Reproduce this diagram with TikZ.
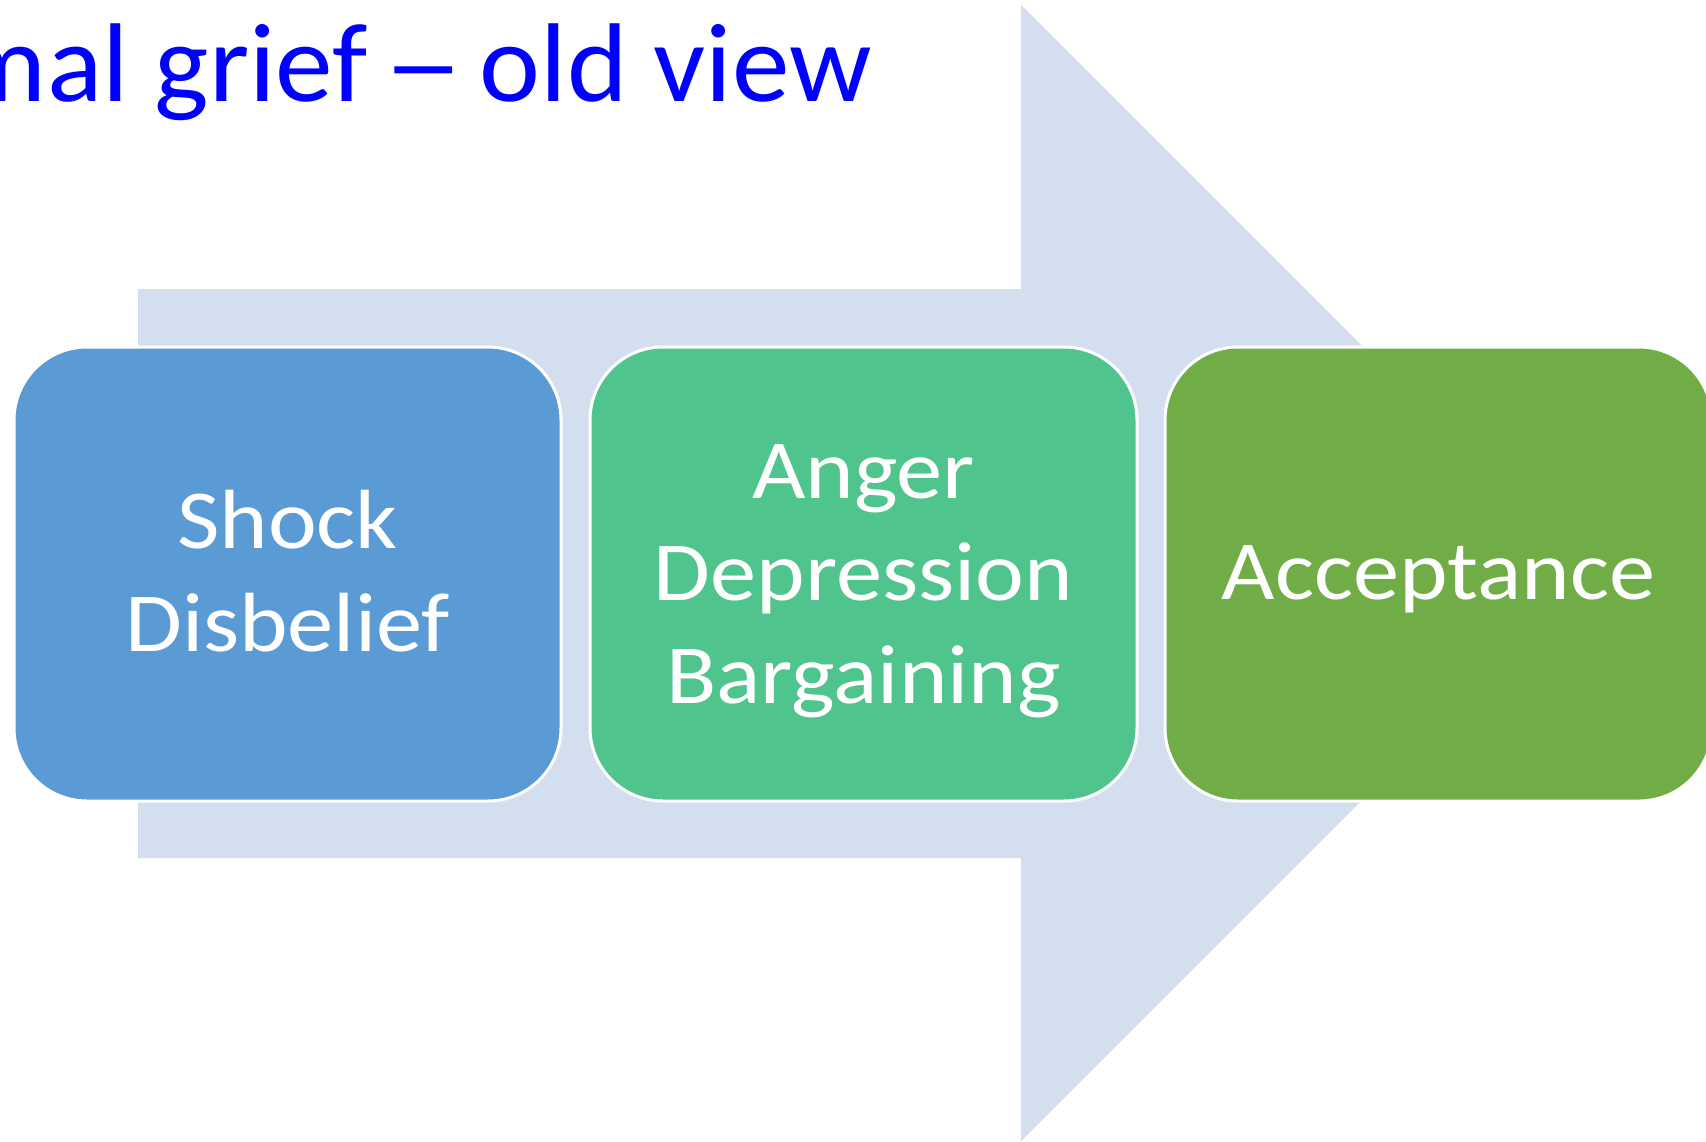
\documentclass[tikz,border=0pt]{standalone}
\usepackage{fontspec}
\setmainfont{Carlito}[FakeStretch=1.10]
\newfontfamily\titlefont{Carlito}[FakeStretch=1.03]
\definecolor{arrowfill}{HTML}{D3DEEF}
\definecolor{boxblue}{HTML}{5B9BD5}
\definecolor{boxgreen}{HTML}{50C48D}
\definecolor{boxolive}{HTML}{70AD47}
\definecolor{titleblue}{HTML}{0000FF}
\tikzset{
  stagebox/.style={rounded corners=73pt, draw=white, line width=3pt,
    minimum width=547pt, minimum height=454pt, inner sep=0pt},
  stagetext/.style={text=white, align=center, inner sep=0pt,
    font=\fontsize{84}{102.5}\selectfont},
}
\begin{document}
\begin{tikzpicture}[x=1pt,y=-1pt]
\useasboundingbox (0,0) rectangle (1706,1141);
\clip (0,0) rectangle (1706,1141);
\fill[white] (0,0) rectangle (1706,1141);
% big arrow
\fill[arrowfill] (138,289) -- (1021,289) -- (1021,5) -- (1589,573) -- (1021,1141) -- (1021,858) -- (138,858) -- cycle;
% title
\node[anchor=base east, inner sep=0pt, text=titleblue, font=\titlefont\fontsize{112}{134}\selectfont] (title) at (872,101.5) {Normal grief \hspace{-10pt}\scalebox{1.4}[1]{–} \hspace{-10pt}old view};
% stages
\node[stagebox, fill=boxblue] (s1) at (287.5,574) {};
\node[stagebox, fill=boxgreen] (s2) at (863.5,574) {};
\node[stagebox, fill=boxolive] (s3) at (1438.5,574) {};
\node[stagetext] (t1) at ([yshift=3pt]s1.center) {Shock\\Disbelief};
\node[stagetext] (t2) at ([yshift=-7pt]s2.center) {Anger\\Depression\\Bargaining};
\node[stagetext] (t3) at ([yshift=-5.5pt]s3.center) {Acceptance};
\end{tikzpicture}
\end{document}
